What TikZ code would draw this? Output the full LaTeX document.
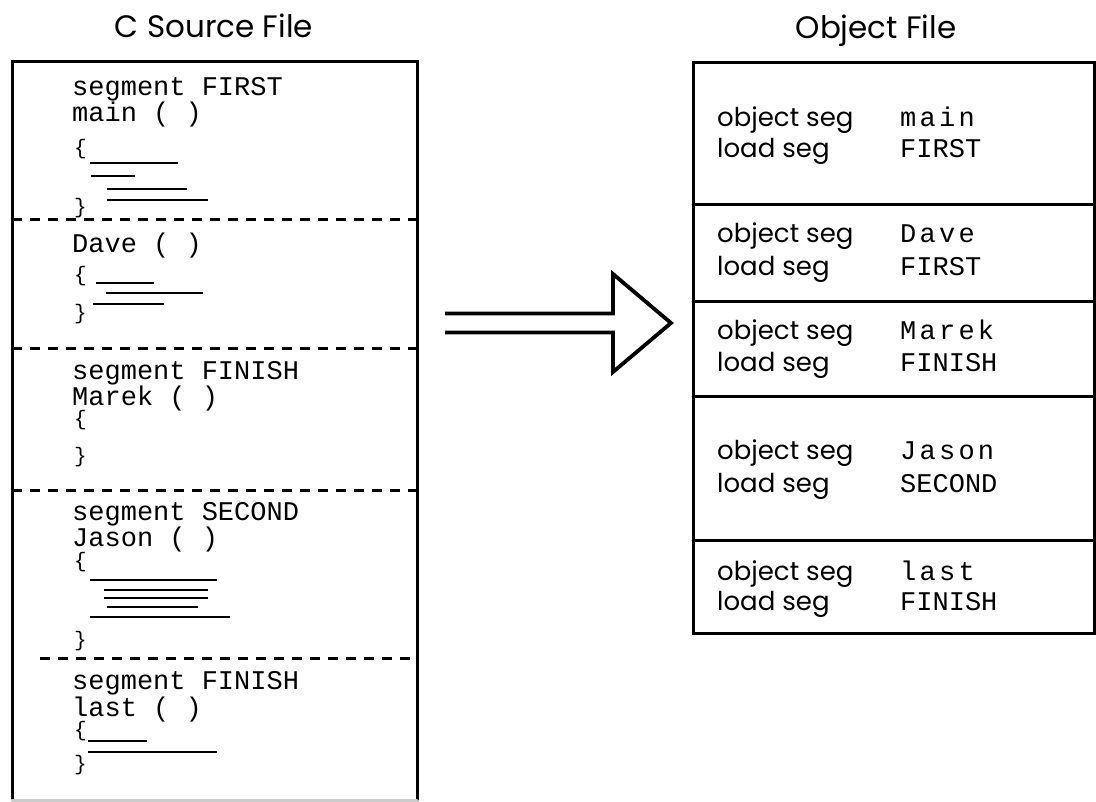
\documentclass[tikz,border=0pt]{standalone}
\usepackage{fontspec}
\setmainfont{Poppins}
\newfontfamily\srcfamily{Liberation Mono}
\newfontfamily\spacedfamily[LetterSpace=12]{Liberation Mono}
\usetikzlibrary{%
  arrows,%
  calc,%
  positioning% wg. " of "
}
\newcommand{\srcfont}{\srcfamily\fontsize{27}{27}\selectfont}
\newcommand{\bracefont}{\srcfamily\fontsize{21}{21}\selectfont}
\newcommand{\namefont}{\spacedfamily\fontsize{27}{27}\selectfont}
\newcommand{\segfont}{\rmfamily\fontsize{26}{26}\selectfont}
\newcommand{\headfont}{\rmfamily\fontsize{31}{31}\selectfont}

\begin{document}
\begin{tikzpicture}[
  x=1pt, y=-1pt,
  title/.style={font=\headfont, anchor=base, inner sep=0pt},
  code/.style={font=\srcfont, anchor=base west, inner sep=0pt},
  brace/.style={font=\bracefont, anchor=base west, inner sep=0pt},
  seglabel/.style={font=\segfont, anchor=base west, inner sep=0pt},
  segname/.style={font=\namefont, anchor=base west, inner sep=0pt},
  segval/.style={font=\srcfont, anchor=base west, inner sep=0pt},
  frame/.style={line width=3pt, line cap=round},
  cut/.style={line width=3pt, dash pattern=on 10pt off 8pt},
  scribble/.style={line width=2.8pt},
  bigarrow/.style={line width=3.8pt, line join=miter}
]
\useasboundingbox (0,0) rectangle (1096,802);

% titles
\node[title] (srctitle) at (214,38) {C Source File};
\node[title] (objtitle) at (876,39) {Object File};

% C source file
\draw[frame] (12,800) -- (12,62) -- (417,62) -- (417,800);
\draw[frame, gray!40] (12,800) -- (417,800);
\draw[cut] (12,220) -- (417,220);
\draw[cut] (12,349) -- (417,349);
\draw[cut] (12,490) -- (417,490);
\draw[cut] (40,658) -- (417,658);

\node[code] (seg1) at (72,96) {segment FIRST};
\node[code] (fn1) at (72,122) {main ( )};
\node[brace] (open1) at (74,155) {\{};
\node[brace] (close1) at (74,214) {\}};
\draw[scribble] (90,163) -- (178,163);
\draw[scribble] (91,176) -- (135,176);
\draw[scribble] (107,189) -- (187,189);
\draw[scribble] (107,200) -- (208,200);

\node[code] (fn2) at (72,253) {Dave ( )};
\node[brace] (open2) at (74,282) {\{};
\node[brace] (close2) at (74,320) {\}};
\draw[scribble] (96,283) -- (154,283);
\draw[scribble] (106,293) -- (203,293);
\draw[scribble] (93,304) -- (164,304);

\node[code] (seg3) at (72,380) {segment FINISH};
\node[code] (fn3) at (72,406) {Marek ( )};
\node[brace] (open3) at (74,426) {\{};
\node[brace] (close3) at (74,463) {\}};

\node[code] (seg4) at (72,520) {segment SECOND};
\node[code] (fn4) at (72,546) {Jason ( )};
\node[brace] (open4) at (74,567) {\{};
\node[brace] (close4) at (74,646) {\}};
\draw[scribble] (90,580) -- (217,580);
\draw[scribble] (104,590) -- (208,590);
\draw[scribble] (104,598) -- (208,598);
\draw[scribble] (107,607) -- (198,607);
\draw[scribble] (90,617) -- (230,617);

\node[code] (seg5) at (72,689) {segment FINISH};
\node[code] (fn5) at (72,716) {last ( )};
\node[brace] (open5) at (74,736) {\{};
\node[brace] (close5) at (74,770) {\}};
\draw[scribble] (88,741) -- (147,741);
\draw[scribble] (88,752) -- (217,752);

% arrow
\coordinate (arrtail) at (445,323);
\coordinate (arrtip) at (671,323);
\draw[bigarrow] (arrtail) ++(0,-9.5) -- ++(168,0) -- ++(0,-39.5) -- (arrtip)
  -- ++(-58,49) -- ++(0,-39.5) -- ++(-168,0);

% object file
\draw[frame] (693,63) rectangle (1094,633);
\draw[frame] (693,205) -- (1094,205);
\draw[frame] (693,302) -- (1094,302);
\draw[frame] (693,397) -- (1094,397);
\draw[frame] (693,540) -- (1094,540);

\node[seglabel] (obj1) at (717,127) {object seg};
\node[seglabel] (load1) at (717,158) {load seg};
\node[segname] (objseg1) at (900,127) {main};
\node[segval] (loadseg1) at (900,158) {FIRST};

\node[seglabel] (obj2) at (717,243) {object seg};
\node[seglabel] (load2) at (717,276) {load seg};
\node[segname] (objseg2) at (900,243) {Dave};
\node[segval] (loadseg2) at (900,276) {FIRST};

\node[seglabel] (obj3) at (717,340) {object seg};
\node[seglabel] (load3) at (717,372) {load seg};
\node[segname] (objseg3) at (900,340) {Marek};
\node[segval] (loadseg3) at (900,372) {FINISH};

\node[seglabel] (obj4) at (717,460) {object seg};
\node[seglabel] (load4) at (717,492) {load seg};
\node[segname] (objseg4) at (900,460) {Jason};
\node[segval] (loadseg4) at (900,492) {SECOND};

\node[seglabel] (obj5) at (717,580) {object seg};
\node[seglabel] (load5) at (717,610) {load seg};
\node[segname] (objseg5) at (900,580) {last};
\node[segval] (loadseg5) at (900,610) {FINISH};
\end{tikzpicture}
\end{document}
